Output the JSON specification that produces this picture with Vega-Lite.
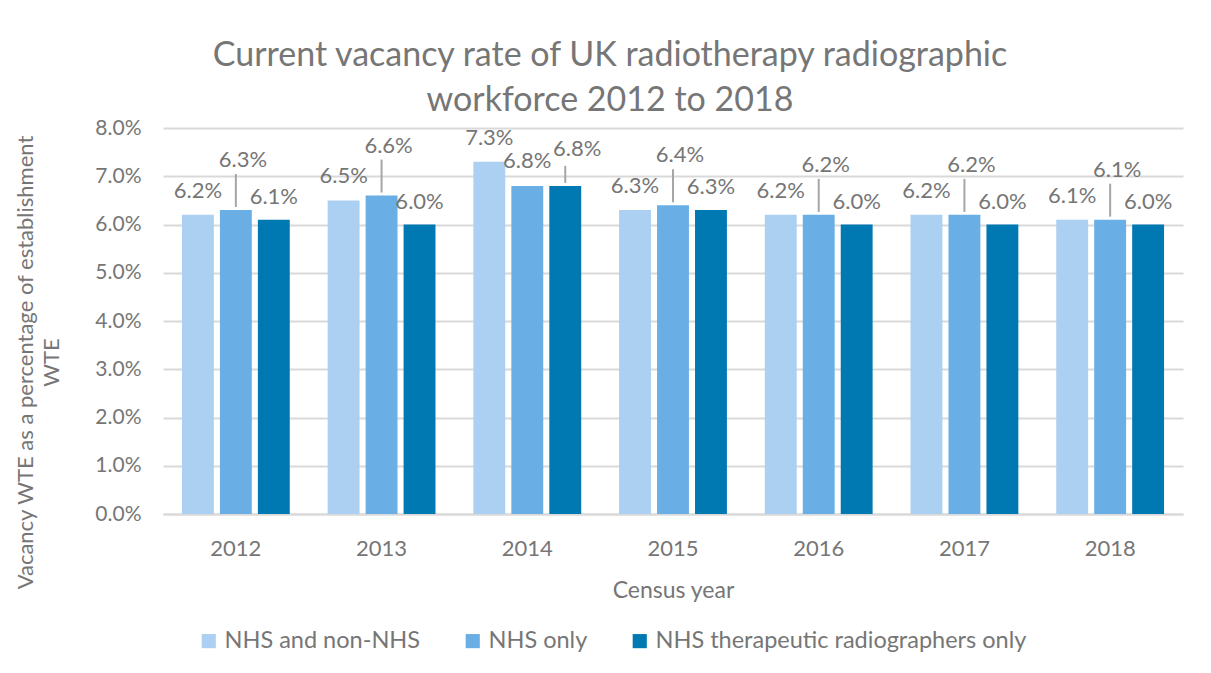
{
  "$schema": "https://vega.github.io/schema/vega-lite/v6.json",
  "width": 1020,
  "height": 386,
  "autosize": {"type": "none"},
  "padding": {"left": 163, "top": 128, "right": 28, "bottom": 159},
  "background": "white",
  "config": {
    "font": "Lato",
    "view": {"stroke": null},
    "text": {"font": "Lato"}
  },
  "title": {
    "text": ["Current vacancy rate of UK radiotherapy radiographic", "workforce 2012 to 2018"],
    "font": "Lato",
    "fontSize": 34,
    "fontWeight": "normal",
    "color": "#767676",
    "anchor": "middle",
    "dx": -63,
    "lineHeight": 45,
    "offset": -1
  },
  "data": {
    "values": [
      {"year": "2012", "series": "NHS and non-NHS", "value": 0.062},
      {"year": "2012", "series": "NHS only", "value": 0.063},
      {"year": "2012", "series": "NHS therapeutic radiographers only", "value": 0.061},
      {"year": "2013", "series": "NHS and non-NHS", "value": 0.065},
      {"year": "2013", "series": "NHS only", "value": 0.066},
      {"year": "2013", "series": "NHS therapeutic radiographers only", "value": 0.060},
      {"year": "2014", "series": "NHS and non-NHS", "value": 0.073},
      {"year": "2014", "series": "NHS only", "value": 0.068},
      {"year": "2014", "series": "NHS therapeutic radiographers only", "value": 0.068},
      {"year": "2015", "series": "NHS and non-NHS", "value": 0.063},
      {"year": "2015", "series": "NHS only", "value": 0.064},
      {"year": "2015", "series": "NHS therapeutic radiographers only", "value": 0.063},
      {"year": "2016", "series": "NHS and non-NHS", "value": 0.062},
      {"year": "2016", "series": "NHS only", "value": 0.062},
      {"year": "2016", "series": "NHS therapeutic radiographers only", "value": 0.060},
      {"year": "2017", "series": "NHS and non-NHS", "value": 0.062},
      {"year": "2017", "series": "NHS only", "value": 0.062},
      {"year": "2017", "series": "NHS therapeutic radiographers only", "value": 0.060},
      {"year": "2018", "series": "NHS and non-NHS", "value": 0.061},
      {"year": "2018", "series": "NHS only", "value": 0.061},
      {"year": "2018", "series": "NHS therapeutic radiographers only", "value": 0.060}
    ]
  },
  "encoding": {
    "x": {
      "field": "year",
      "type": "nominal",
      "scale": {"paddingInner": 0.26, "paddingOuter": 0.13},
      "axis": {
        "title": "Census year",
        "labelAngle": 0,
        "labelFontSize": 22,
        "labelColor": "#767676",
        "labelPadding": 24,
        "ticks": false,
        "domainColor": "#d9d9d9",
        "domainWidth": 2,
        "titleFontSize": 23,
        "titleFontWeight": "normal",
        "titleColor": "#767676",
        "titlePadding": 20
      }
    },
    "xOffset": {
      "field": "series",
      "type": "nominal",
      "sort": ["NHS and non-NHS", "NHS only", "NHS therapeutic radiographers only"],
      "scale": {"paddingInner": 0.16, "paddingOuter": 0}
    },
    "y": {
      "field": "value",
      "type": "quantitative",
      "scale": {"domain": [0, 0.08], "nice": false},
      "axis": {
        "values": [0, 0.01, 0.02, 0.03, 0.04, 0.05, 0.06, 0.07, 0.08],
        "format": ".1%",
        "labelFontSize": 21,
        "labelColor": "#767676",
        "labelPadding": 22,
        "ticks": false,
        "domain": false,
        "grid": true,
        "gridColor": "#d9d9d9",
        "gridWidth": 2,
        "title": ["Vacancy WTE as a percentage of establishment", "WTE"],
        "titleFontSize": 22,
        "titleFontWeight": "normal",
        "titleColor": "#767676",
        "titleAngle": -90,
        "titleX": -148,
        "titleY": 234,
        "titleAlign": "center",
        "titleBaseline": "top",
        "titleLineHeight": 26
      }
    }
  },
  "layer": [
    {
      "mark": {"type": "bar"},
      "encoding": {
        "color": {
          "field": "series",
          "type": "nominal",
          "scale": {
            "domain": ["NHS and non-NHS", "NHS only", "NHS therapeutic radiographers only"],
            "range": ["#abd0f1", "#69afe5", "#0079b3"]
          },
          "legend": {
            "title": null,
            "orient": "none",
            "direction": "horizontal",
            "legendX": 34,
            "legendY": 501,
            "symbolType": "square",
            "symbolSize": 200,
            "symbolStrokeWidth": 0,
            "labelFontSize": 23.5,
            "labelColor": "#767676",
            "labelLimit": 600,
            "labelOffset": 4,
            "columnPadding": 40,
            "symbolOffset": 0
          }
        }
      }
    },
    {
      "transform": [{"filter": "datum.series == 'NHS and non-NHS'"}],
      "mark": {"type": "text", "fontSize": 22, "color": "#767676", "align": "center", "baseline": "alphabetic", "dy": -17},
      "encoding": {"text": {"field": "value", "format": ".1%"}}
    },
    {
      "transform": [{"filter": "datum.series == 'NHS only' && datum.year != '2014'"}],
      "mark": {"type": "text", "fontSize": 22, "color": "#767676", "align": "center", "baseline": "alphabetic", "dy": -43, "dx": 7},
      "encoding": {"text": {"field": "value", "format": ".1%"}}
    },
    {
      "transform": [{"filter": "datum.series == 'NHS only' && datum.year == '2014'"}],
      "mark": {"type": "text", "fontSize": 22, "color": "#767676", "align": "center", "baseline": "alphabetic", "dy": -18},
      "encoding": {"text": {"field": "value", "format": ".1%"}}
    },
    {
      "transform": [{"filter": "datum.series == 'NHS therapeutic radiographers only' && datum.year != '2014'"}],
      "mark": {"type": "text", "fontSize": 22, "color": "#767676", "align": "center", "baseline": "alphabetic", "dy": -16},
      "encoding": {"text": {"field": "value", "format": ".1%"}}
    },
    {
      "transform": [{"filter": "datum.series == 'NHS therapeutic radiographers only' && datum.year == '2014'"}],
      "mark": {"type": "text", "fontSize": 22, "color": "#767676", "align": "center", "baseline": "alphabetic", "dy": -30, "dx": 12},
      "encoding": {"text": {"field": "value", "format": ".1%"}}
    },
    {
      "transform": [{"filter": "datum.series == 'NHS only' && datum.year != '2014'"}],
      "mark": {"type": "rule", "color": "#a6a6a6", "strokeWidth": 2, "yOffset": -3, "y2Offset": -36},
      "encoding": {"y2": {"field": "value"}}
    },
    {
      "transform": [{"filter": "datum.series == 'NHS therapeutic radiographers only' && datum.year == '2014'"}],
      "mark": {"type": "rule", "color": "#a6a6a6", "strokeWidth": 2, "yOffset": -3, "y2Offset": -20},
      "encoding": {"y2": {"field": "value"}}
    }
  ]
}
